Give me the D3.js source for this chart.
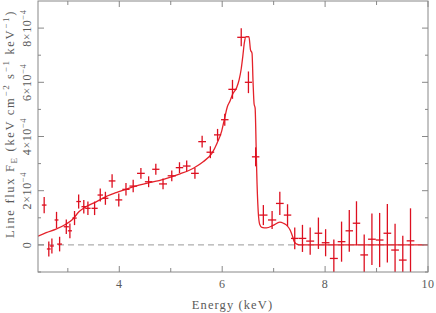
<!DOCTYPE html>
<html>
<head>
<meta charset="utf-8">
<script src="https://cdn.jsdelivr.net/npm/d3@7"></script>
<style>
  body { margin: 0; background: #fff; }
  svg { display: block; }
  text { font-family: "Liberation Serif", "DejaVu Serif", serif; fill: #5a5a5a; }
</style>
</head>
<body>
<div id="chart"></div>
<script>
// data points: energy (keV), line flux in units of 1e-4, 1-sigma error
const energy = [2.54, 2.63, 2.69, 2.78, 2.84, 2.97, 3.04, 3.13, 3.21, 3.31, 3.39, 3.52, 3.63, 3.73, 3.86, 3.99,
  4.13, 4.27, 4.42, 4.57, 4.71, 4.85, 5.02, 5.17, 5.31, 5.47, 5.61, 5.77, 5.91, 6.05, 6.20, 6.37, 6.51, 6.65,
  6.80, 6.97, 7.12, 7.27, 7.41, 7.56, 7.71, 7.87, 8.01, 8.17, 8.32, 8.47, 8.61, 8.76, 8.91, 9.06, 9.21, 9.36, 9.51, 9.66];
const flux = [1.47, -0.15, -0.04, 0.92, 0.03, 0.67, 0.52, 0.99, 1.60, 1.41, 1.35, 1.35, 1.84, 1.72, 2.36, 1.66,
  2.05, 2.17, 2.64, 2.33, 2.79, 2.25, 2.55, 2.85, 2.91, 2.64, 3.81, 3.42, 4.06, 4.62, 5.74, 7.66, 6.00, 3.25,
  1.10, 0.92, 1.53, 1.10, 0.24, 0.24, 0.14, 0.43, 0.08, -0.50, 0.12, 0.52, 0.80, -0.37, 0.21, 0.18, 0.43, -0.19, -0.56, 0.15];
const fluxErr = [0.30, 0.28, 0.28, 0.30, 0.27, 0.27, 0.27, 0.26, 0.26, 0.25, 0.25, 0.25, 0.24, 0.24, 0.25, 0.24,
  0.23, 0.23, 0.20, 0.20, 0.20, 0.20, 0.20, 0.20, 0.20, 0.20, 0.22, 0.22, 0.22, 0.22, 0.35, 0.33, 0.40, 0.35,
  0.37, 0.33, 0.43, 0.40, 0.40, 0.50, 0.50, 0.58, 0.50, 0.70, 0.74, 0.77, 0.81, 0.75, 0.95, 1.00, 1.08, 0.97, 0.90, 1.20];

// model line profile
const modelE = [2.42, 2.58, 2.77, 2.96, 3.09, 3.22, 3.35, 3.55, 3.74, 3.94, 4.13, 4.32, 4.53, 4.86, 5.18, 5.44,
  5.63, 5.80, 5.90, 5.99, 6.05, 6.10, 6.15, 6.20, 6.28, 6.33, 6.37, 6.40, 6.43, 6.46, 6.52, 6.55, 6.58, 6.60,
  6.62, 6.64, 6.66, 6.67, 6.70, 6.73, 6.77, 6.86, 6.99, 7.12, 7.19, 7.25, 7.32, 7.37, 7.40, 7.45, 7.51, 10.0];
const modelF = [0.32, 0.45, 0.58, 0.76, 0.94, 1.23, 1.41, 1.59, 1.78, 1.93, 2.05, 2.17, 2.27, 2.42, 2.62, 2.83,
  3.07, 3.38, 3.75, 4.20, 4.70, 5.10, 5.30, 5.55, 5.80, 6.10, 6.50, 6.95, 7.45, 7.68, 7.68, 7.20, 7.07, 6.00,
  5.20, 5.05, 3.60, 2.76, 1.23, 0.75, 0.65, 0.63, 0.72, 0.84, 0.80, 0.73, 0.55, 0.30, 0.12, 0.03, 0, 0];

const xMajor = [4, 6, 8, 10];
const xMinor = [3, 5, 7, 9];
const yMajor = [0, 2, 4, 6, 8];
const yMinor = [-1, 1, 3, 5, 7];

const W = 436, H = 313;
const margin = { top: 1, right: 8, bottom: 41, left: 38 };
const x = d3.scaleLinear().domain([2.42, 10]).range([margin.left, W - margin.right]);
const y = d3.scaleLinear().domain([-1, 9]).range([H - margin.bottom, margin.top]);

const svg = d3.select('#chart').append('svg').attr('width', W).attr('height', H);

svg.append('clipPath').attr('id', 'plot')
  .append('rect')
  .attr('x', margin.left).attr('y', margin.top)
  .attr('width', x.range()[1] - x.range()[0])
  .attr('height', y.range()[0] - y.range()[1]);

const axisColor = '#888';

// zero line
svg.append('line')
  .attr('x1', x.range()[0]).attr('x2', x.range()[1])
  .attr('y1', y(0)).attr('y2', y(0))
  .attr('stroke', '#999').attr('stroke-width', 1)
  .attr('stroke-dasharray', '6,4');

const plot = svg.append('g').attr('clip-path', 'url(#plot)');

// model curve
const line = d3.line()
  .x((d, i) => x(modelE[i]))
  .y(d => y(d))
  .curve(d3.curveMonotoneX);
plot.append('path')
  .datum(modelF)
  .attr('d', line)
  .attr('fill', 'none')
  .attr('stroke', '#e4222a')
  .attr('stroke-width', 1.3);

// data crosses
const red = '#dd1020';
energy.forEach((e, i) => {
  const prev = i > 0 ? energy[i - 1] : e - (energy[1] - energy[0]);
  const next = i < energy.length - 1 ? energy[i + 1] : e + (e - energy[i - 1]);
  const xe = (next - prev) / 4;
  plot.append('line')
    .attr('x1', x(e)).attr('x2', x(e))
    .attr('y1', y(flux[i] - fluxErr[i])).attr('y2', y(flux[i] + fluxErr[i]))
    .attr('stroke', red).attr('stroke-width', 1.3);
  plot.append('line')
    .attr('x1', x(e - xe)).attr('x2', x(e + xe))
    .attr('y1', y(flux[i])).attr('y2', y(flux[i]))
    .attr('stroke', red).attr('stroke-width', 1.3);
});

// frame
svg.append('rect')
  .attr('x', x.range()[0]).attr('y', y.range()[1])
  .attr('width', x.range()[1] - x.range()[0])
  .attr('height', y.range()[0] - y.range()[1])
  .attr('fill', 'none').attr('stroke', axisColor).attr('stroke-width', 1);

// ticks (inward, on all four sides)
const ticks = svg.append('g').attr('stroke', axisColor).attr('stroke-width', 1);
const tx = (vals, len) => vals.forEach(v => {
  ticks.append('line').attr('x1', x(v)).attr('x2', x(v))
    .attr('y1', y.range()[0]).attr('y2', y.range()[0] - len);
  ticks.append('line').attr('x1', x(v)).attr('x2', x(v))
    .attr('y1', y.range()[1]).attr('y2', y.range()[1] + len);
});
const ty = (vals, len) => vals.forEach(v => {
  ticks.append('line').attr('y1', y(v)).attr('y2', y(v))
    .attr('x1', x.range()[0]).attr('x2', x.range()[0] + len);
  ticks.append('line').attr('y1', y(v)).attr('y2', y(v))
    .attr('x1', x.range()[1]).attr('x2', x.range()[1] - len);
});
tx(xMajor, 6); tx(xMinor, 4);
ty(yMajor, 6); ty(yMinor, 3);

// x tick labels
svg.selectAll('.xlab')
  .data(xMajor)
  .enter().append('text')
  .attr('x', d => x(d))
  .attr('y', 288)
  .attr('text-anchor', 'middle')
  .style('font-size', '12px')
  .style('letter-spacing', '0.6px')
  .text(d => d);

// y tick labels (rotated)
yMajor.forEach(v => {
  const t = svg.append('text')
    .attr('transform', `translate(31,${y(v)}) rotate(-90)`)
    .attr('text-anchor', 'middle')
    .style('font-size', '12px')
    .style('letter-spacing', '0.6px');
  if (v === 0) {
    t.text('0');
  } else {
    t.append('tspan').text(v + '×10');
    t.append('tspan').attr('dy', -5).style('font-size', '8.5px').text('−4');
  }
});

// axis titles
svg.append('text')
  .attr('x', x(6.2))
  .attr('y', 309)
  .attr('text-anchor', 'middle')
  .style('font-size', '12.5px')
  .style('letter-spacing', '1.1px')
  .text('Energy (keV)');

const yt = svg.append('text')
  .attr('transform', 'translate(14,124) rotate(-90)')
  .attr('text-anchor', 'middle')
  .style('font-size', '12.5px');
yt.append('tspan').text('Line flux F');
yt.append('tspan').attr('dy', 3).style('font-size', '9px').text('E');
yt.append('tspan').attr('dy', -3).text(' (keV cm');
yt.append('tspan').attr('dy', -5).style('font-size', '9px').text('−2');
yt.append('tspan').attr('dy', 5).text(' s');
yt.append('tspan').attr('dy', -5).style('font-size', '9px').text('−1');
yt.append('tspan').attr('dy', 5).text(' keV');
yt.append('tspan').attr('dy', -5).style('font-size', '9px').text('−1');
yt.append('tspan').attr('dy', 5).text(')');
// stretch letter spacing so the title spans the same length as in the original
const nChars = yt.text().length;
const len = yt.node().getComputedTextLength();
yt.style('letter-spacing', ((228 - len) / nChars) + 'px');
</script>
</body>
</html>
